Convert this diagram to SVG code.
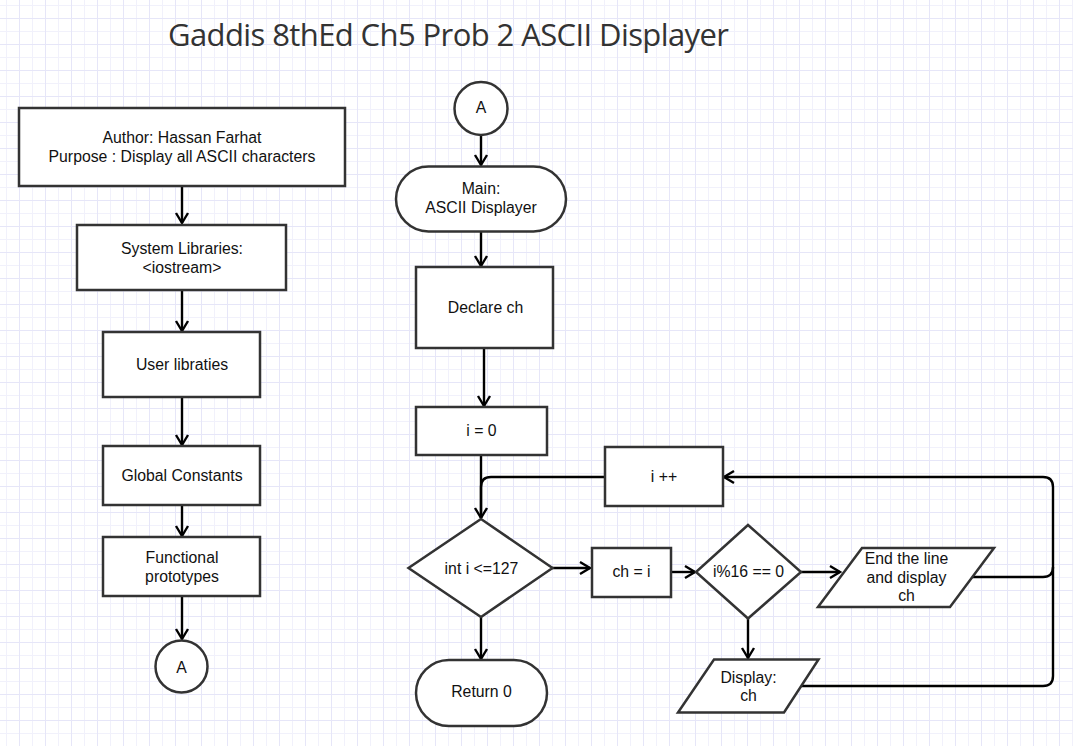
<svg xmlns="http://www.w3.org/2000/svg" width="1073" height="746" viewBox="0 0 1073 746">
<style>
.shape{fill:#fff;stroke:#333;stroke-width:2.5}
.t{font-family:"Liberation Sans",Arial,sans-serif;font-size:15.8px;fill:#111;text-anchor:middle}
.c{fill:none;stroke:#000;stroke-width:2.4}
.title{font-family:"Open Sans","Noto Sans",sans-serif;font-size:31px;fill:#333}
</style>
<defs>
<pattern id="grid" width="26" height="26" patternUnits="userSpaceOnUse" x="19" y="18">
<rect x="0" y="0" width="26" height="26" fill="#fff"/>
<rect x="13" y="0" width="1" height="26" fill="#f1f1fb"/>
<rect x="0" y="13" width="26" height="1" fill="#f1f1fb"/>
<rect x="0" y="0" width="1" height="26" fill="#e6e6f8"/>
<rect x="0" y="0" width="26" height="1" fill="#e6e6f8"/>
</pattern>
<marker id="arr" markerUnits="userSpaceOnUse" markerWidth="14" markerHeight="14" viewBox="-12 -7 14 14" refX="0" refY="0" orient="auto" overflow="visible">
<path d="M-10,-6 L0,0 L-10,6" fill="none" stroke="#000" stroke-width="2.4"/>
</marker>
</defs>
<rect width="1073" height="746" fill="url(#grid)"/>
<text class="title" x="168" y="46" textLength="561">Gaddis 8thEd Ch5 Prob 2 ASCII Displayer</text>

<g id="connectors">
<path class="c" d="M182,186 V223" marker-end="url(#arr)"/>
<path class="c" d="M182,290 V331" marker-end="url(#arr)"/>
<path class="c" d="M182,397 V445" marker-end="url(#arr)"/>
<path class="c" d="M182,505 V536" marker-end="url(#arr)"/>
<path class="c" d="M182,596 V639" marker-end="url(#arr)"/>
<path class="c" d="M481,135 V165" marker-end="url(#arr)"/>
<path class="c" d="M481,232 V266" marker-end="url(#arr)"/>
<path class="c" d="M484,348 V406" marker-end="url(#arr)"/>
<path class="c" d="M481,455 V518" marker-end="url(#arr)"/>
<path class="c" d="M605,477 H491 Q481,477 481,487 V518"/>
<path class="c" d="M552,568 H590" marker-end="url(#arr)"/>
<path class="c" d="M671,572 H695" marker-end="url(#arr)"/>
<path class="c" d="M801,572 H840" marker-end="url(#arr)"/>
<path class="c" d="M748,618 V658" marker-end="url(#arr)"/>
<path class="c" d="M481,617 V659" marker-end="url(#arr)"/>
<path class="c" d="M972,577 H1043 Q1053,577 1053,567 V487 Q1053,477 1043,477 H724" marker-end="url(#arr)"/>
<path class="c" d="M801,686 H1043 Q1053,686 1053,676 V567"/>
</g>

<g id="author">
<rect class="shape" x="19" y="108" width="326" height="78"/>
<text class="t" x="182" y="142.5">Author: Hassan Farhat</text>
<text class="t" x="182" y="161.5">Purpose : Display all ASCII characters</text>
</g>
<g id="syslib">
<rect class="shape" x="77" y="225" width="209" height="65"/>
<text class="t" x="182" y="254">System Libraries:</text>
<text class="t" x="182" y="272.5">&lt;iostream&gt;</text>
</g>
<g id="userlib">
<rect class="shape" x="103" y="332" width="157" height="65"/>
<text class="t" x="182" y="369.5">User libraties</text>
</g>
<g id="globals">
<rect class="shape" x="103" y="446" width="157" height="59"/>
<text class="t" x="182" y="481">Global Constants</text>
</g>
<g id="protos">
<rect class="shape" x="103" y="537" width="157" height="59"/>
<text class="t" x="182" y="563">Functional</text>
<text class="t" x="182" y="581.5">prototypes</text>
</g>
<g id="connA-bottom">
<circle class="shape" cx="181.5" cy="666.5" r="26"/>
<text class="t" x="181.5" y="672.5">A</text>
</g>

<g id="connA-top">
<circle class="shape" cx="481" cy="108.5" r="26.5"/>
<text class="t" x="481" y="113">A</text>
</g>
<g id="main">
<rect class="shape" x="396" y="166.5" width="170" height="65" rx="32.5" ry="32.5"/>
<text class="t" x="481" y="194">Main:</text>
<text class="t" x="481" y="212.5">ASCII Displayer</text>
</g>
<g id="declare">
<rect class="shape" x="416" y="267" width="137" height="81"/>
<text class="t" x="485.5" y="312.5">Declare ch</text>
</g>
<g id="init">
<rect class="shape" x="416" y="407" width="131" height="48"/>
<text class="t" x="481.5" y="435.5">i = 0</text>
</g>
<g id="incr">
<rect class="shape" x="605" y="447" width="118" height="59"/>
<text class="t" x="664" y="482">i ++</text>
</g>
<g id="cond">
<polygon class="shape" points="481,519 552.5,568 481,617 408.5,568"/>
<text class="t" x="481.5" y="573.5">int i &lt;=127</text>
</g>
<g id="assign">
<rect class="shape" x="592" y="548" width="79" height="49"/>
<text class="t" x="631.5" y="577">ch = i</text>
</g>
<g id="mod">
<polygon class="shape" points="748,525 801,572 748,618.5 696,572"/>
<text class="t" x="748.5" y="577">i%16 == 0</text>
</g>
<g id="endline">
<polygon class="shape" points="862,548 994,548 950,607 818,607"/>
<text class="t" x="906.5" y="564">End the line</text>
<text class="t" x="906.5" y="582.5">and display</text>
<text class="t" x="906.5" y="601">ch</text>
</g>
<g id="display">
<polygon class="shape" points="714,659.5 818.5,659.5 784,712.5 678,712.5"/>
<text class="t" x="748.5" y="682.5">Display:</text>
<text class="t" x="748.5" y="701">ch</text>
</g>
<g id="ret">
<rect class="shape" x="416" y="660" width="131" height="66" rx="33" ry="33"/>
<text class="t" x="481.5" y="697">Return 0</text>
</g>
</svg>
